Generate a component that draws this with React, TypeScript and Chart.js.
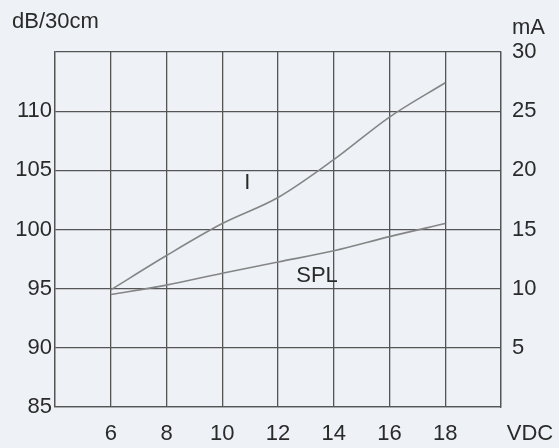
import React, { useEffect, useRef } from "react";
import { Chart, registerables } from "chart.js";

Chart.register(...registerables);

const voltage = [6, 8, 10, 12, 14, 16, 18];
const currentMA = [9.9, 12.8, 15.5, 17.7, 20.9, 24.5, 27.4];
const splDB = [94.5, 95.3, 96.3, 97.25, 98.2, 99.4, 100.5];
const xTickLabels = [6, 8, 10, 12, 14, 16, 18];
const leftTickLabels = [85, 90, 95, 100, 105, 110];
const rightTickLabels = [5, 10, 15, 20, 25, 30];

const FONT = "'Liberation Sans', Arial, sans-serif";
const TEXT = "#2a2a2a";
const GRID = "#555555";
const LINE = "#858585";

const annotations = {
  id: "annotations",
  afterDraw(chart: any) {
    const ctx = chart.ctx;
    const x = chart.scales.x;
    const y = chart.scales.y;
    const area = chart.chartArea;
    ctx.save();
    ctx.fillStyle = TEXT;
    ctx.font = `22px ${FONT}`;
    ctx.textBaseline = "middle";
    ctx.textAlign = "left";
    ctx.fillText("dB/30cm", 12, 22);
    ctx.fillText("mA", area.right + 11, 28);
    ctx.textAlign = "center";
    ctx.fillText("VDC", area.right + 29, x.bottom - 14);
    ctx.fillText("I", x.getPixelForValue(10.9), y.getPixelForValue(103.9));
    ctx.fillText("SPL", x.getPixelForValue(13.4), y.getPixelForValue(96.1));
    ctx.restore();
  },
};

export default function App() {
  const ref = useRef<HTMLCanvasElement>(null);
  useEffect(() => {
    if (!ref.current) return;
    const chart = new Chart(ref.current, {
      type: "line",
      data: {
        datasets: [
          {
            label: "I",
            data: voltage.map((v, i) => ({ x: v, y: currentMA[i] })),
            yAxisID: "y1",
            borderColor: LINE,
            borderWidth: 1.6,
            pointRadius: 0,
            cubicInterpolationMode: "monotone",
            fill: false,
          },
          {
            label: "SPL",
            data: voltage.map((v, i) => ({ x: v, y: splDB[i] })),
            yAxisID: "y",
            borderColor: LINE,
            borderWidth: 1.6,
            pointRadius: 0,
            cubicInterpolationMode: "monotone",
            fill: false,
          },
        ],
      },
      options: {
        animation: false,
        responsive: false,
        layout: { padding: { top: 52, left: 0, right: 0, bottom: 0 } },
        plugins: { legend: { display: false }, tooltip: { enabled: false } },
        scales: {
          x: {
            type: "linear",
            min: 4,
            max: 20,
            afterFit: (s: any) => {
              s.height = 41;
            },
            ticks: {
              stepSize: 2,
              color: TEXT,
              font: { family: FONT, size: 22 },
              padding: 14,
              maxRotation: 0,
              autoSkip: false,
              callback: (v: any) => (xTickLabels.includes(v) ? String(v) : ""),
            },
            grid: { color: GRID, lineWidth: 1.3, drawTicks: false },
            border: { color: GRID, width: 1.3 },
          },
          y: {
            position: "left",
            min: 85,
            max: 115,
            afterFit: (s: any) => {
              s.width = 55;
            },
            ticks: {
              stepSize: 5,
              color: TEXT,
              font: { family: FONT, size: 22 },
              padding: 3,
              callback: (v: any) => (leftTickLabels.includes(v) ? String(v) : ""),
            },
            grid: { color: GRID, lineWidth: 1.3, drawTicks: false },
            border: { color: GRID, width: 1.3 },
          },
          y1: {
            position: "right",
            min: 0,
            max: 30,
            afterFit: (s: any) => {
              s.width = 58;
            },
            ticks: {
              stepSize: 5,
              color: TEXT,
              font: { family: FONT, size: 22 },
              padding: 11,
              callback: (v: any) => (rightTickLabels.includes(v) ? String(v) : ""),
            },
            grid: { display: false, drawTicks: false },
            border: { color: GRID, width: 1.3 },
          },
        },
      },
      plugins: [annotations],
    });
    return () => chart.destroy();
  }, []);
  return (
    <div
      style={{
        position: "fixed",
        left: 0,
        top: 0,
        width: 559,
        height: 448,
        background: "#eef2f7",
      }}
    >
      <canvas ref={ref} width={559} height={448} />
    </div>
  );
}
